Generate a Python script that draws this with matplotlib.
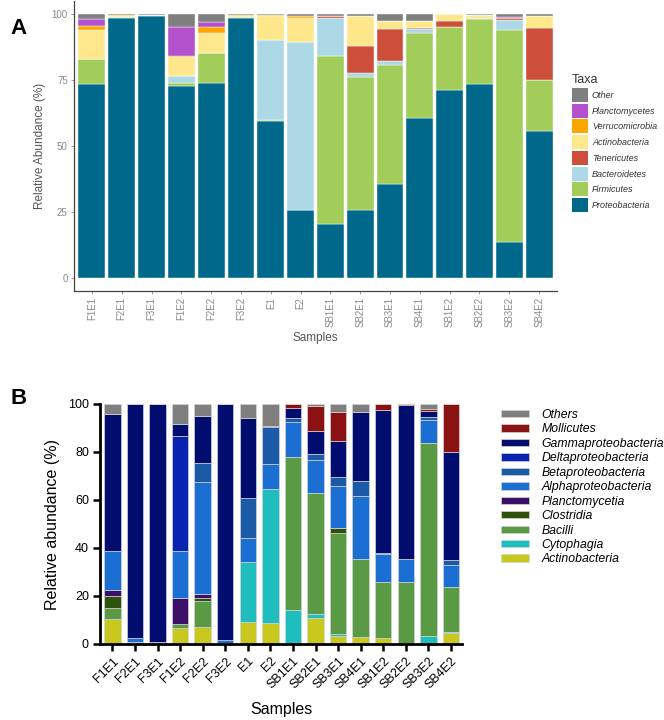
#!/usr/bin/env python3
"""
plot.py

Relative abundance of taxa per sample: phylum level (A) and class level (B).
"""
import numpy as np
import matplotlib
matplotlib.use("Agg")
import matplotlib.pyplot as plt
from matplotlib.patches import Patch

plt.rcParams["font.family"] = ["Liberation Sans", "DejaVu Sans"]

samples = ["F1E1", "F2E1", "F3E1", "F1E2", "F2E2", "F3E2", "E1", "E2",
           "SB1E1", "SB2E1", "SB3E1", "SB4E1", "SB1E2", "SB2E2", "SB3E2", "SB4E2"]

# Panel A - phyla (bottom to top of each stack)
phyla = ["Proteobacteria", "Firmicutes", "Bacteroidetes", "Tenericutes",
         "Actinobacteria", "Verrucomicrobia", "Planctomycetes", "Other"]
proteobacteria = [73.4, 98.7, 99.3, 72.7, 73.9, 98.5, 59.5, 25.6, 20.6, 25.6, 35.7, 60.5, 71.3, 73.4, 13.4, 55.8]
firmicutes = [9.6, 0.2, 0.3, 1.2, 11.5, 0.5, 0.2, 0.2, 63.6, 50.7, 45.1, 32.3, 23.9, 24.8, 80.6, 19.3]
bacteroidetes = [0, 0, 0, 2.8, 0, 0, 30.6, 63.8, 14.3, 1.3, 1.5, 1.4, 0, 0.3, 3.8, 0]
tenericutes = [0, 0, 0, 0, 0, 0, 0, 0, 0.7, 10.2, 11.9, 0.5, 2.1, 0, 0.8, 19.6]
actinobacteria_a = [11, 0.5, 0.1, 7.2, 7.6, 0.5, 9.2, 8.9, 0, 11.4, 3.3, 2.8, 2.7, 1.2, 0, 4.7]
verrucomicrobia = [1.7, 0.3, 0, 0.4, 2, 0.3, 0.3, 0.7, 0, 0, 0, 0, 0, 0, 0, 0]
planctomycetes = [2.5, 0, 0, 11, 2, 0, 0, 0, 0, 0, 0, 0, 0, 0, 0.2, 0]
other = [1.8, 0.3, 0.3, 4.7, 3, 0.2, 0.2, 0.8, 0.8, 0.8, 2.5, 2.5, 0, 0.3, 1.2, 0.6]
phyla_values = [proteobacteria, firmicutes, bacteroidetes, tenericutes,
                actinobacteria_a, verrucomicrobia, planctomycetes, other]
phyla_colors = ["#00688b", "#a2cd5a", "#add8e6", "#cd4f39",
                "#fee88b", "#ffa500", "#b452cd", "#7f7f7f"]

# Panel B - classes (bottom to top of each stack)
classes = ["Actinobacteria", "Cytophagia", "Bacilli", "Clostridia", "Planctomycetia",
           "Alphaproteobacteria", "Betaproteobacteria", "Deltaproteobacteria",
           "Gammaproteobacteria", "Mollicutes", "Others"]
actinobacteria_b = [10.3, 0.5, 0.3, 6.5, 7.2, 0.3, 9.3, 8.75, 0, 11, 3.2, 2.9, 2.4, 0.5, 0, 4.4]
cytophagia = [0, 0, 0, 0, 0, 0, 25, 55.85, 14.2, 1.4, 1.0, 0, 0, 0, 3.5, 0.5]
bacilli = [4.9, 0.3, 0, 1.7, 10.7, 0, 0, 0, 63.8, 50.5, 41.9, 32.7, 23.3, 25.2, 80.4, 19]
clostridia = [4.9, 0, 0, 0, 1.4, 0, 0, 0, 0, 0, 2.4, 0, 0, 0, 0, 0]
planctomycetia = [2.3, 0, 0, 10.8, 1.5, 0, 0, 0, 0, 0, 0, 0, 0, 0, 0, 0]
alpha = [16.4, 1.5, 0.5, 19.9, 46.8, 1.4, 9.7, 10.4, 14.4, 13.6, 17.5, 26.1, 11.7, 9.6, 9.4, 9]
beta = [0, 0, 0, 0, 7.8, 0, 16.7, 15.3, 1.6, 2.5, 3.6, 6.2, 0.4, 0, 1.4, 2.1]
delta = [0, 0, 0, 47.8, 0, 0, 0, 0, 0, 0, 0, 0, 0, 0, 0, 0]
gamma = [57.2, 97.7, 99.2, 5, 19.6, 98.3, 33.3, 0.5, 4.5, 9.9, 15, 28.6, 59.7, 64.3, 2.5, 45.1]
mollicutes = [0, 0, 0, 0, 0, 0, 0, 0, 1.4, 10.4, 11.9, 0, 2.5, 0.4, 0.7, 19.9]
others = [4, 0, 0, 8.3, 5, 0, 6, 9.2, 0.1, 0.7, 3.5, 3.5, 0, 0, 2.1, 0]
class_values = [actinobacteria_b, cytophagia, bacilli, clostridia, planctomycetia,
                alpha, beta, delta, gamma, mollicutes, others]
class_colors = ["#c8c81e", "#1fbdbd", "#5a9a44", "#2e520c", "#3c0f68",
                "#1c6fd2", "#1b5aa6", "#0a22b0", "#000c6e", "#8b1212", "#7f7f7f"]

W, H = 664, 720
fig = plt.figure(figsize=(W / 100, H / 100), dpi=100)


def px_axes(left, top, right, bottom):
    return fig.add_axes([left / W, 1 - bottom / H, (right - left) / W, (bottom - top) / H])


# ---------------- Panel A ----------------
axA = px_axes(74, 1, 557, 291)
x = np.arange(1, len(samples) + 1)
bottom = np.zeros(len(samples))
for vals, col in zip(phyla_values, phyla_colors):
    axA.bar(x, vals, 0.9, bottom=bottom, color=col, edgecolor="white", linewidth=0.3)
    bottom += np.array(vals)
axA.set_xlim(0.4, 16.6)
axA.set_ylim(-5, 105)
axA.set_yticks([0, 25, 50, 75, 100])
axA.set_xticks(x)
axA.set_xticklabels(samples, rotation=90)
for s in ["top", "right"]:
    axA.spines[s].set_visible(False)
for s in ["left", "bottom"]:
    axA.spines[s].set_color("#444444")
    axA.spines[s].set_linewidth(0.9)
axA.tick_params(colors="#8a8a8a", labelsize=7, length=2.5, width=0.6, pad=2)
axA.set_ylabel("Relative Abundance (%)", fontsize=8.5, color="#555555", labelpad=4)
axA.set_xlabel("Samples", fontsize=8.5, color="#555555", labelpad=3)

handlesA = [Patch(facecolor=c) for c in phyla_colors][::-1]
legA = fig.legend(handlesA, [p for p in phyla][::-1], loc="upper left",
                  bbox_to_anchor=(564 / W, 1 - 66 / H), frameon=False,
                  title="Taxa", title_fontsize=9, alignment="left",
                  prop={"style": "italic", "size": 6.5},
                  handlelength=1.8, handleheight=2.0, labelspacing=0.2,
                  handletextpad=0.4)
for t in legA.get_texts():
    t.set_color("#333333")
legA.get_title().set_color("#333333")

# ---------------- Panel B ----------------
axB = px_axes(100, 404, 462, 644)
xb = np.arange(len(samples))
bottom = np.zeros(len(samples))
for vals, col in zip(class_values, class_colors):
    axB.bar(xb, vals, 0.73, bottom=bottom, color=col, edgecolor="#d4d4d4", linewidth=0.5)
    bottom += np.array(vals)
axB.set_xlim(-0.55, 15.49)
axB.set_ylim(0, 100)
axB.set_yticks([0, 20, 40, 60, 80, 100])
axB.set_xticks(xb)
axB.set_xticklabels(samples, rotation=45, ha="right", rotation_mode="anchor")
for s in ["top", "right"]:
    axB.spines[s].set_visible(False)
for s in ["left", "bottom"]:
    axB.spines[s].set_linewidth(2)
axB.tick_params(labelsize=9, length=5, width=1.8, pad=3)
axB.set_ylabel("Relative abundance (%)", fontsize=11.5, labelpad=6)
axB.set_xlabel("Samples", fontsize=11.5, labelpad=8)

handlesB = [Patch(facecolor=c, edgecolor="#d4d4d4", linewidth=0.5) for c in class_colors][::-1]
fig.legend(handlesB, classes[::-1], loc="upper left",
           bbox_to_anchor=(490 / W, 1 - 398 / H), frameon=False,
           prop={"style": "italic", "size": 8.8},
           handlelength=2.25, handleheight=0.55, labelspacing=0.2,
           handletextpad=1.05)

fig.text(10 / W, 1 - 28 / H, "A", fontsize=16, fontweight="bold", va="center")
fig.text(10 / W, 1 - 398 / H, "B", fontsize=16, fontweight="bold", va="center")

fig.savefig("out.png", dpi=100)
